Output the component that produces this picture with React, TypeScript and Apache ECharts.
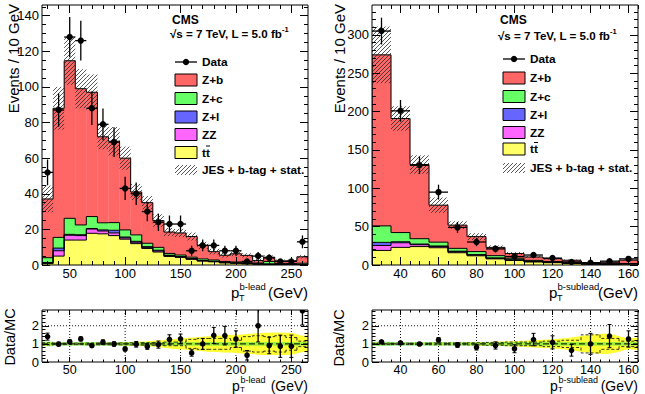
import React, { useEffect, useRef } from 'react';
import * as echarts from 'echarts';

const SANS = '"Liberation Sans", Arial, Helvetica, sans-serif';
const HALF_BIN = 5;

const COLOR_ZB = '#ff6666';
const COLOR_ZC = '#66ff66';
const COLOR_ZL = '#6666ff';
const COLOR_ZZ = '#ff66ff';
const COLOR_TT = '#ffff66';
const HATCH_STROKE = 'rgba(35,35,35,0.85)';

// ---- leading b jet pT, 10 GeV bins ----
const leadCenters = [30, 40, 50, 60, 70, 80, 90, 100, 110, 120, 130, 140, 150, 160, 170, 180, 190, 200, 210, 220, 230, 240, 250, 260];
const leadData = [52, 87, 128, 126, 88, 79, 69, 43, 40, 30, 24, 23, 23, 8, 11, 11, 8, 8, 2, 5, 4, 2, 2, 13];
const leadTT = [0.8, 5, 14, 14, 17.8, 17.5, 16.5, 14.5, 12, 9.3, 7.3, 4.8, 4.3, 3.2, 2.2, 1.8, 1.2, 1, 0.7, 0.5, 0.4, 0.3, 0.3, 0.3];
const leadZZ = [0.2, 3, 2.7, 2.5, 2.4, 1.6, 1.5, 0.7, 0.8, 0.6, 0.6, 0.5, 0.3, 0.3, 0.2, 0.2, 0.1, 0.1, 0.1, 0.1, 0.1, 0, 0, 0];
const leadZl = [0.4, 1.5, 0.5, 0.5, 0.3, 0.6, 1.5, 0.5, 0.5, 0.4, 0.4, 0.2, 0.1, 0.1, 0.1, 0.1, 0.1, 0.1, 0, 0, 0, 0, 0, 0];
const leadZc = [2.7, 6, 9, 5.5, 6.7, 4, 4.3, 4, 3.6, 1.9, 1.6, 1, 0.9, 0.8, 0.9, 0.7, 0.6, 0.5, 0.5, 0.5, 1.5, 0.5, 0.5, 0.7];
const leadZb = [33, 72.5, 88.5, 76.5, 69.8, 48.3, 45.7, 40.3, 24.1, 22.8, 15.1, 12, 12.4, 11.6, 7.6, 4.7, 3.5, 4.6, 4.1, 1.4, 2.4, 1.5, 1.5, 3.6];
const leadUnc = [7.5, 12, 13.5, 11, 10, 7, 8, 6.5, 4.5, 3.7, 3.5, 2.3, 2.3, 2.2, 2, 1.6, 1.3, 1.3, 1.2, 1, 1, 0.8, 0.8, 1];
// relative half-widths of the bands drawn in the Data/MC panel
const leadBandWide = [0.1, 0.07, 0.07, 0.07, 0.07, 0.08, 0.08, 0.1, 0.12, 0.15, 0.18, 0.25, 0.3, 0.35, 0.4, 0.45, 0.48, 0.5, 0.55, 0.6, 0.62, 0.62, 0.6, 0.45];
const leadBandNarrow = [0.13, 0.1, 0.1, 0.1, 0.1, 0.1, 0.1, 0.1, 0.1, 0.1, 0.1, 0.1, 0.1, 0.1, 0.1, 0.1, 0.1, 0.1, 0.1, 0.1, 0.1, 0.1, 0.1, 0.1];
const leadBandDashed = [0.06, 0.04, 0.04, 0.04, 0.05, 0.05, 0.05, 0.05, 0.06, 0.07, 0.08, 0.1, 0.1, 0.25, 0.3, 0.3, 0.3, 0.2, 0.4, 0.45, 0.4, 0.45, 0.35, 0.15];

// ---- sub-leading b jet pT, 10 GeV bins ----
const subCenters = [30, 40, 50, 60, 70, 80, 90, 100, 110, 120, 130, 140, 150, 160];
const subData = [305, 201, 130, 95, 49, 30, 21, 11, 13, 9, 4, 3, 5, 8];
const subTT = [19, 23, 24, 22.5, 16, 12, 8, 6, 4, 3, 2, 1.2, 1, 1.3];
const subZZ = [6.5, 6, 2.5, 1.5, 1.3, 1, 0.8, 0.5, 0.4, 0.3, 0.2, 0.1, 0.1, 0.1];
const subZl = [4, 1.3, 0.8, 0.8, 0.7, 0.5, 0.4, 0.3, 0.2, 0.2, 0.1, 0.1, 0.1, 0.1];
const subZc = [21.5, 12, 7, 5, 3.7, 4, 3, 2, 1.4, 1, 0.8, 0.5, 0.4, 0.5];
const subZb = [223, 148.7, 96.7, 48.2, 30.3, 19.5, 10.8, 6.2, 4.5, 3.8, 3.1, 1.1, 1.9, 4.3];
const subUnc = [37, 16, 12, 10, 5, 4.5, 2.5, 2, 1.5, 1.2, 1, 0.8, 0.8, 1];
const subBandWide = [0.07, 0.06, 0.06, 0.07, 0.08, 0.1, 0.12, 0.15, 0.2, 0.25, 0.35, 0.5, 0.55, 0.3];
const subBandNarrow = [0.12, 0.1, 0.1, 0.1, 0.1, 0.1, 0.1, 0.1, 0.1, 0.1, 0.1, 0.1, 0.1, 0.1];
const subBandDashed = [0.04, 0.04, 0.04, 0.05, 0.05, 0.06, 0.08, 0.1, 0.1, 0.15, 0.2, 0.5, 0.3, 0.15];

// ---- axis ticks ----
const leadXMajor = [50, 100, 150, 200, 250];
const leadYMajor = [0, 20, 40, 60, 80, 100, 120, 140];
const subXMajor = [40, 60, 80, 100, 120, 140, 160];
const subYMajor = [0, 50, 100, 150, 200, 250, 300];
const ratioYMajor = [0, 1, 2];

function minorTicks(from: number, to: number, step: number, major: number[]) {
  const out: number[] = [];
  for (let v = from; v <= to + 1e-9; v += step) {
    const r = Math.round(v * 1000) / 1000;
    if (!major.some((m) => Math.abs(m - r) < 1e-6)) out.push(r);
  }
  return out;
}
const leadXMinor = minorTicks(30, 260, 10, leadXMajor);
const leadYMinor = minorTicks(5, 145, 5, leadYMajor);
const subXMinor = minorTicks(30, 165, 5, subXMajor);
const subYMinor = minorTicks(10, 330, 10, subYMajor);
const ratioYMinor = minorTicks(0.2, 2.8, 0.2, ratioYMajor);

// pixel boxes of the four frames
const GRIDS = [
  { left: 42, top: 5, width: 266, height: 260 },
  { left: 42, top: 310, width: 266, height: 52 },
  { left: 372, top: 5, width: 266, height: 260 },
  { left: 372, top: 310, width: 266, height: 52 },
];

function hatchSegments(x0: number, y0: number, x1: number, y1: number) {
  const step = 4;
  const segs: any[] = [];
  for (let k = Math.ceil((x0 + y0) / step) * step; k <= x1 + y1; k += step) {
    const xa = Math.max(x0, k - y1);
    const xb = Math.min(x1, k - y0);
    if (xb - xa > 0.3) {
      segs.push({ type: 'line', shape: { x1: xa, y1: k - xa, x2: xb, y2: k - xb }, style: { stroke: HATCH_STROKE, lineWidth: 0.9 } });
    }
  }
  return segs;
}

const renderFill = (color: string) => (_p: any, api: any) => {
  const c = api.value(0);
  const a = api.coord([c - HALF_BIN, api.value(2)]);
  const b = api.coord([c + HALF_BIN, api.value(1)]);
  if (b[1] - a[1] < 0.05) return null;
  return {
    type: 'rect',
    shape: { x: a[0] - 0.15, y: a[1], width: b[0] - a[0] + 0.3, height: b[1] - a[1] },
    style: { fill: color, stroke: 'none' },
  };
};

const renderOutline = (_p: any, api: any) => {
  const c = api.value(0);
  const hi = api.value(1);
  const prev = api.value(2);
  const pts: number[][] = [api.coord([c - HALF_BIN, prev]), api.coord([c - HALF_BIN, hi]), api.coord([c + HALF_BIN, hi])];
  if (api.value(3)) pts.push(api.coord([c + HALF_BIN, 0]));
  return { type: 'polyline', shape: { points: pts }, style: { stroke: '#000', lineWidth: 1, fill: 'none' } };
};

const renderHatch = (_p: any, api: any) => {
  const c = api.value(0);
  const a = api.coord([c - HALF_BIN, api.value(2)]);
  const b = api.coord([c + HALF_BIN, api.value(1)]);
  return { type: 'group', children: hatchSegments(a[0], a[1], b[0], b[1]) };
};

const renderPoint = (binBar: boolean) => (_p: any, api: any) => {
  const c = api.value(0);
  const v = api.value(1);
  const e = api.value(2);
  const m = api.coord([c, v]);
  const top = api.coord([c, v + e]);
  const bot = api.coord([c, Math.max(v - e, 0)]);
  const ch: any[] = [
    { type: 'line', shape: { x1: m[0], y1: top[1], x2: m[0], y2: bot[1] }, style: { stroke: '#000', lineWidth: 1.3 } },
  ];
  if (binBar) {
    const l = api.coord([c - HALF_BIN, v]);
    const r = api.coord([c + HALF_BIN, v]);
    ch.push({ type: 'line', shape: { x1: l[0], y1: m[1], x2: r[0], y2: m[1] }, style: { stroke: '#000', lineWidth: 1.3 } });
  } else {
    ch.push({ type: 'line', shape: { x1: m[0] - 2, y1: top[1], x2: m[0] + 2, y2: top[1] }, style: { stroke: '#000', lineWidth: 1 } });
    ch.push({ type: 'line', shape: { x1: m[0] - 2, y1: bot[1], x2: m[0] + 2, y2: bot[1] }, style: { stroke: '#000', lineWidth: 1 } });
  }
  ch.push({ type: 'circle', shape: { cx: m[0], cy: m[1], r: binBar ? 3.2 : 2.8 }, style: { fill: '#000' } });
  return { type: 'group', children: ch };
};

const renderWideBand = (centers: number[], hw: number[]) => (p: any, api: any) => {
  if (p.dataIndex !== 0) return null;
  const n = centers.length;
  const xs = [centers[0] - HALF_BIN, ...centers, centers[n - 1] + HALF_BIN];
  const hs = [hw[0], ...hw, hw[n - 1]];
  const upper = xs.map((x, i) => api.coord([x, 1 + hs[i]]));
  const lower = xs.map((x, i) => api.coord([x, 1 - hs[i]])).reverse();
  return { type: 'polygon', shape: { points: [...upper, ...lower], smooth: 0.3 }, style: { fill: '#ffff33', stroke: 'none' } };
};

const renderNarrowBand = (_p: any, api: any) => {
  const c = api.value(0);
  const h = api.value(1);
  const a = api.coord([c - HALF_BIN, 1 + h]);
  const b = api.coord([c + HALF_BIN, 1 - h]);
  return { type: 'rect', shape: { x: a[0] - 0.15, y: a[1], width: b[0] - a[0] + 0.3, height: b[1] - a[1] }, style: { fill: 'rgba(60,225,60,0.5)', stroke: 'none' } };
};

const renderDashedStep = (_p: any, api: any) => {
  const c = api.value(0);
  const h = api.value(1);
  const prev = api.value(2);
  const mk = (sgn: number) => ({
    type: 'polyline',
    shape: { points: [api.coord([c - HALF_BIN, 1 + sgn * prev]), api.coord([c - HALF_BIN, 1 + sgn * h]), api.coord([c + HALF_BIN, 1 + sgn * h])] },
    style: { stroke: '#222', lineWidth: 0.9, fill: 'none', lineDash: [3, 2] },
  });
  return { type: 'group', children: [mk(1), mk(-1)] };
};

// kind 0: vertical grid line at x, kind 1: horizontal dotted line, kind 2: dashed reference line
const renderGridLine = (p: any, api: any) => {
  const cs = p.coordSys;
  const kind = api.value(0);
  const v = api.value(1);
  if (kind === 0) {
    const x = api.coord([v, 1])[0];
    return { type: 'line', shape: { x1: x, y1: cs.y, x2: x, y2: cs.y + cs.height }, style: { stroke: '#000', lineWidth: 0.9, lineDash: [1, 2] } };
  }
  const y = api.coord([cs.x, v])[1];
  return {
    type: 'line',
    shape: { x1: cs.x, y1: y, x2: cs.x + cs.width, y2: y },
    style: { stroke: '#000', lineWidth: kind === 2 ? 1 : 0.9, lineDash: kind === 2 ? [6, 3] : [1, 2] },
  };
};

function tickAxis(g: number, range: number[], position: string, values: number[], len: number, labelMargin?: number, labelSize = 13) {
  return {
    type: 'value',
    gridIndex: g,
    min: range[0],
    max: range[1],
    position,
    z: 10,
    axisLine: { show: false, onZero: false },
    axisTick: { show: true, inside: true, length: len, customValues: values, lineStyle: { color: '#000', width: 1 } },
    axisLabel:
      labelMargin != null
        ? { show: true, customValues: values, color: '#000', fontFamily: SANS, fontSize: labelSize, margin: labelMargin }
        : { show: false },
    splitLine: { show: false },
    minorTick: { show: false },
  };
}

function text(x: number, y: number, s: string, size: number, opts: any = {}) {
  return {
    type: 'text',
    x,
    y,
    z: 50,
    silent: true,
    rotation: opts.rot || 0,
    style: {
      text: s,
      fontFamily: SANS,
      fontSize: size,
      fontWeight: opts.bold ? 'bold' : 'normal',
      fill: '#000',
      align: opts.align || 'left',
      verticalAlign: 'middle',
      textAlign: opts.align || 'left',
      textVerticalAlign: 'middle',
    },
  };
}

function ptTitle(px: number, yMid: number, sup: string, rightEdge: number, size: number, script: number[]) {
  // script: [subscript offset, superscript offset, subscript size, superscript size]
  return [
    text(px, yMid, 'p', size),
    text(px + 8, yMid + script[0], 'T', script[2]),
    text(px + 8.5, yMid - script[1], sup, script[3]),
    text(rightEdge, yMid, '(GeV)', size, { align: 'right' }),
  ];
}

const LEGEND_FONT = 11.8;

function legend(L: any) {
  const out: any[] = [];
  out.push(text(L.cmsX, L.cms, 'CMS', 12, { bold: true }));
  out.push({
    type: 'text',
    x: L.energyX,
    y: L.energy,
    z: 50,
    silent: true,
    style: {
      text: '{a|√s = 7 TeV, L = 5.0 fb}{b|-1}',
      verticalAlign: 'middle',
      textVerticalAlign: 'middle',
      rich: {
        a: { fontFamily: SANS, fontSize: 11.6, fontWeight: 'bold', fill: '#000', lineHeight: 16 },
        b: { fontFamily: SANS, fontSize: 7.5, fontWeight: 'bold', fill: '#000', lineHeight: 9, verticalAlign: 'top' },
      },
    },
  });
  const x = L.x;
  out.push({ type: 'line', z: 50, shape: { x1: x, y1: L.data, x2: x + 22, y2: L.data }, style: { stroke: '#000', lineWidth: 1.3 } });
  out.push({ type: 'circle', z: 50, shape: { cx: x + 11, cy: L.data, r: 3.2 }, style: { fill: '#000' } });
  out.push(text(x + 27, L.data, 'Data', LEGEND_FONT, { bold: true }));
  const boxes: [number, string, string][] = [
    [L.zb, COLOR_ZB, 'Z+b'],
    [L.zc, COLOR_ZC, 'Z+c'],
    [L.zl, COLOR_ZL, 'Z+l'],
    [L.zz, COLOR_ZZ, 'ZZ'],
    [L.tt, COLOR_TT, 'tt'],
  ];
  boxes.forEach(([cy, col, label]) => {
    out.push({ type: 'rect', z: 50, shape: { x, y: cy - 6, width: 22, height: 12 }, style: { fill: col, stroke: '#000', lineWidth: 1 } });
    out.push(text(x + 27, cy, label, LEGEND_FONT, { bold: true }));
  });
  // bar over the second t
  out.push({ type: 'line', z: 50, shape: { x1: x + 31, y1: L.tt - 6.5, x2: x + 35, y2: L.tt - 6.5 }, style: { stroke: '#000', lineWidth: 1 } });
  out.push({ type: 'group', z: 50, children: hatchSegments(x, L.jes - 5, x + 22, L.jes + 5) });
  out.push(text(x + 27, L.jes, 'JES + b-tag + stat.', LEGEND_FONT, { bold: true }));
  return out;
}

function stackedPanel(g: number, centers: number[], layers: { v: number[]; color: string }[], data: number[], unc: number[]) {
  const ax = { xAxisIndex: 4 * g, yAxisIndex: 4 * g };
  const series: any[] = [];
  let base = centers.map(() => 0);
  const levels: { lo: number[]; hi: number[] }[] = [];
  layers.forEach((l) => {
    const hi = l.v.map((v, i) => base[i] + v);
    levels.push({ lo: base, hi });
    base = hi;
  });
  const total = base;
  levels.forEach((lv, k) => {
    series.push({
      type: 'custom', ...ax, z: 2, silent: true, clip: true,
      renderItem: renderFill(layers[k].color),
      data: centers.map((c, i) => [c, lv.lo[i], lv.hi[i]]),
    });
  });
  levels.forEach((lv) => {
    series.push({
      type: 'custom', ...ax, z: 3, silent: true, clip: true,
      renderItem: renderOutline,
      data: centers.map((c, i) => [c, lv.hi[i], i ? lv.hi[i - 1] : 0, i === centers.length - 1 ? 1 : 0]),
    });
  });
  series.push({
    type: 'custom', ...ax, z: 4, silent: true, clip: true,
    renderItem: renderHatch,
    data: centers.map((c, i) => [c, Math.max(0, total[i] - unc[i]), total[i] + unc[i]]),
  });
  series.push({
    type: 'custom', ...ax, z: 6, silent: true, clip: true,
    renderItem: renderPoint(true),
    data: centers.map((c, i) => [c, data[i], Math.sqrt(data[i])]),
  });
  return { series, total };
}

function ratioPanel(g: number, centers: number[], data: number[], total: number[], xMajor: number[], wide: number[], narrow: number[], dashed: number[]) {
  const ax = { xAxisIndex: 4 * g, yAxisIndex: 4 * g };
  return [
    {
      type: 'custom', ...ax, z: 1, silent: true, clip: true,
      renderItem: renderGridLine,
      data: [...xMajor.map((v) => [0, v]), [1, 1], [1, 2]],
    },
    {
      type: 'custom', ...ax, z: 2, silent: true, clip: true,
      renderItem: renderWideBand(centers, wide),
      data: centers.map((c, i) => [c, wide[i]]),
    },
    {
      type: 'custom', ...ax, z: 3, silent: true, clip: true,
      renderItem: renderNarrowBand,
      data: centers.map((c, i) => [c, narrow[i]]),
    },
    {
      type: 'custom', ...ax, z: 4, silent: true, clip: true,
      renderItem: renderDashedStep,
      data: centers.map((c, i) => [c, dashed[i], i ? dashed[i - 1] : dashed[i]]),
    },
    {
      type: 'custom', ...ax, z: 4, silent: true, clip: true,
      renderItem: renderGridLine,
      data: [[2, 1]],
    },
    {
      type: 'custom', ...ax, z: 6, silent: true, clip: true,
      renderItem: renderPoint(false),
      data: centers.map((c, i) => [c, data[i] / total[i], Math.sqrt(data[i]) / total[i]]),
    },
  ];
}

function buildOption() {
  const xAxis: any[] = [];
  const yAxis: any[] = [];
  const addAxes = (g: number, xr: number[], yr: number[], xMaj: number[], xMin: number[], yMaj: number[], yMin: number[], xLen: number[], yLen: number[], xMargin: number, xSize: number) => {
    xAxis.push(
      tickAxis(g, xr, 'bottom', xMaj, xLen[0], xMargin, xSize),
      tickAxis(g, xr, 'bottom', xMin, xLen[1]),
      tickAxis(g, xr, 'top', xMaj, xLen[0]),
      tickAxis(g, xr, 'top', xMin, xLen[1]),
    );
    yAxis.push(
      tickAxis(g, yr, 'left', yMaj, yLen[0], 3),
      tickAxis(g, yr, 'left', yMin, yLen[1]),
      tickAxis(g, yr, 'right', yMaj, yLen[0]),
      tickAxis(g, yr, 'right', yMin, yLen[1]),
    );
  };
  const leadX = [25, 265];
  const subX = [25, 165];
  const ratioY = [0, 2.87];
  addAxes(0, leadX, [0, 146], leadXMajor, leadXMinor, leadYMajor, leadYMinor, [8, 4], [8, 4], 2, 13);
  addAxes(1, leadX, ratioY, leadXMajor, leadXMinor, ratioYMajor, ratioYMinor, [5, 2.5], [7, 3.5], 1, 12.5);
  addAxes(2, subX, [0, 339], subXMajor, subXMinor, subYMajor, subYMinor, [8, 4], [8, 4], 2, 13);
  addAxes(3, subX, ratioY, subXMajor, subXMinor, ratioYMajor, ratioYMinor, [5, 2.5], [7, 3.5], 1, 12.5);

  const lead = stackedPanel(
    0,
    leadCenters,
    [
      { v: leadTT, color: COLOR_TT },
      { v: leadZZ, color: COLOR_ZZ },
      { v: leadZl, color: COLOR_ZL },
      { v: leadZc, color: COLOR_ZC },
      { v: leadZb, color: COLOR_ZB },
    ],
    leadData,
    leadUnc,
  );
  const sub = stackedPanel(
    2,
    subCenters,
    [
      { v: subTT, color: COLOR_TT },
      { v: subZZ, color: COLOR_ZZ },
      { v: subZl, color: COLOR_ZL },
      { v: subZc, color: COLOR_ZC },
      { v: subZb, color: COLOR_ZB },
    ],
    subData,
    subUnc,
  );

  const series = [
    ...lead.series,
    ...ratioPanel(1, leadCenters, leadData, lead.total, leadXMajor, leadBandWide, leadBandNarrow, leadBandDashed),
    ...sub.series,
    ...ratioPanel(3, subCenters, subData, sub.total, subXMajor, subBandWide, subBandNarrow, subBandDashed),
  ];

  const frames = GRIDS.map((g) => ({
    type: 'rect',
    z: 60,
    silent: true,
    shape: { x: g.left, y: g.top, width: g.width, height: g.height },
    style: { fill: 'none', stroke: '#000', lineWidth: 1 },
  }));

  const mainScript = [5.5, 6, 9, 9.5];
  const ratioScript = [4, 5.5, 8, 9];
  const graphic = [
    ...frames,
    text(13, 4, 'Events / 10 GeV', 15, { rot: Math.PI / 2, align: 'right' }),
    text(339, 4, 'Events / 10 GeV', 15, { rot: Math.PI / 2, align: 'right' }),
    text(10, 337, 'Data/MC', 14.5, { rot: Math.PI / 2, align: 'center' }),
    text(339, 338, 'Data/MC', 14.5, { rot: Math.PI / 2, align: 'center' }),
    ...ptTitle(231, 292, 'b-lead', 308, 15, mainScript),
    ...ptTitle(232, 385.5, 'b-lead', 308, 14, ratioScript),
    ...ptTitle(549, 292, 'b-sublead', 638, 15, mainScript),
    ...ptTitle(550, 385.5, 'b-sublead', 638, 14, ratioScript),
    ...legend({ x: 175, cmsX: 172, energyX: 170, cms: 20, energy: 33, data: 62, zb: 80, zc: 98.5, zl: 117, zz: 134.5, tt: 152.5, jes: 170 }),
    ...legend({ x: 503, cmsX: 500, energyX: 498, cms: 20, energy: 35, data: 59, zb: 78, zc: 96.5, zl: 114.5, zz: 132.5, tt: 149, jes: 168 }),
  ];

  return {
    animation: false,
    backgroundColor: '#fff',
    grid: GRIDS.map((g) => ({ ...g, show: false, containLabel: false })),
    xAxis,
    yAxis,
    series,
    graphic,
  };
}

export default function App() {
  const ref = useRef<HTMLDivElement>(null);
  useEffect(() => {
    if (!ref.current) return;
    const chart = echarts.init(ref.current, null, { renderer: 'svg' });
    chart.setOption(buildOption() as any);
    return () => chart.dispose();
  }, []);
  return <div ref={ref} style={{ position: 'fixed', left: 0, top: 0, width: 645, height: 394 }} />;
}
